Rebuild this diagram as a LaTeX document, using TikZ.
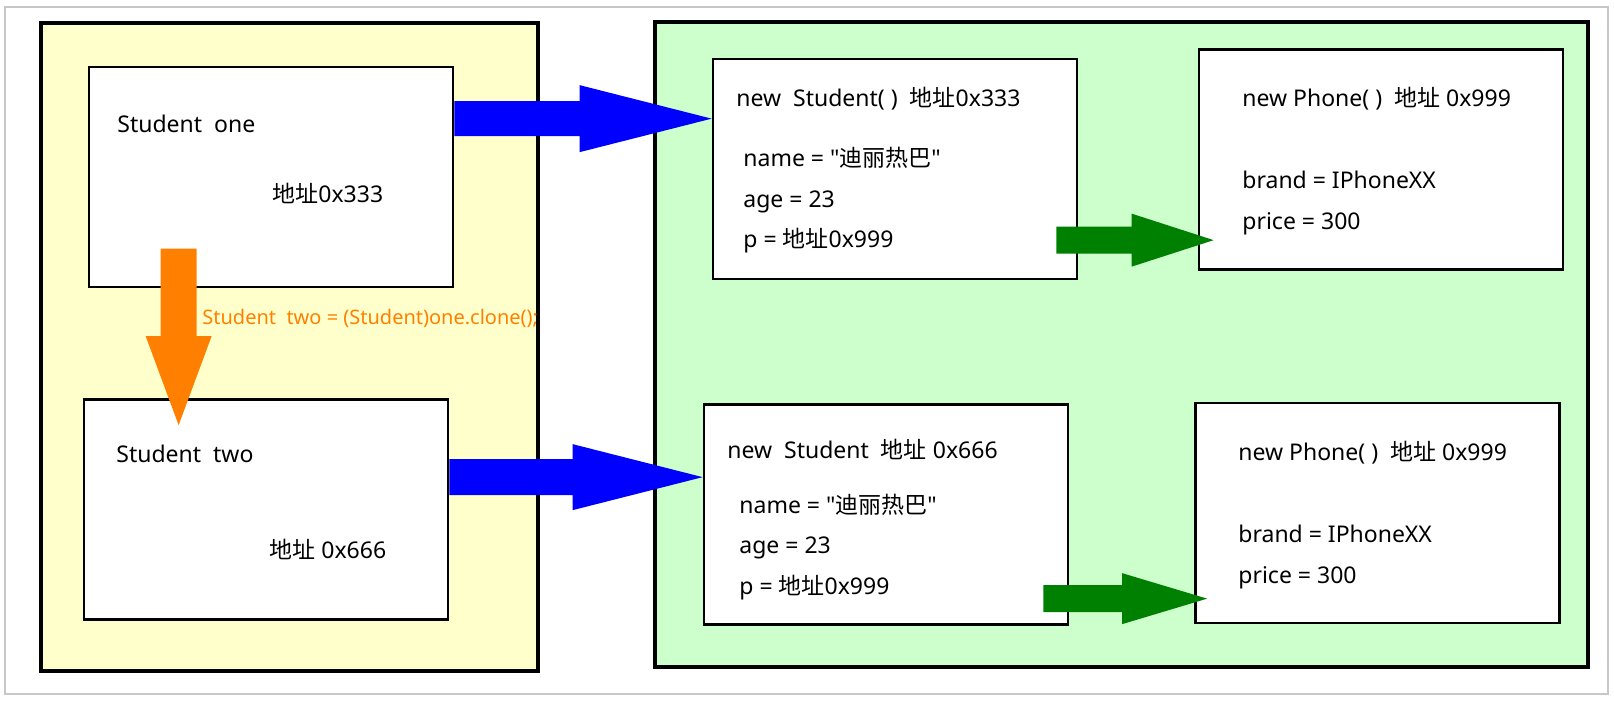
\documentclass[tikz,border=0pt]{standalone}
\usepackage{fontspec}
\setmainfont{Noto Sans}[Ligatures=TeXOff]
\newfontfamily\cjk{Noto Sans CJK SC}[Ligatures=TeXOff]
\usepackage{xcolor}
\usepackage{tikz}
\usetikzlibrary{calc}
\definecolor{stackbg}{HTML}{FFFFCC}
\definecolor{heapbg}{HTML}{CCFFCC}
\definecolor{refblue}{HTML}{0000FF}
\definecolor{refgreen}{HTML}{008000}
\definecolor{cloneorange}{HTML}{FF8000}
\newcommand\addr{{\cjk 地址}}
\tikzset{area/.style={rectangle,draw,line width=2.4pt,inner sep=0pt},
  obj/.style={rectangle,draw,fill=white,line width=1.35pt,minimum width=182pt,minimum height=110pt,inner sep=0pt},
  txt/.style={anchor=base west,inner sep=0pt,font=\fontsize{11.5}{13}\selectfont}}
% fat arrows: colour, start, tip, half shaft, half head, head length
\newcommand\fatright[6]{\fill[#1] ($(#2)+(0,-#4)$) -- ($(#3)+(-#6,-#4)$) -- ($(#3)+(-#6,-#5)$) -- (#3) -- ($(#3)+(-#6,#5)$) -- ($(#3)+(-#6,#4)$) -- ($(#2)+(0,#4)$) -- cycle;}
\newcommand\fatdown[6]{\fill[#1] ($(#2)+(-#4,0)$) -- ($(#3)+(-#4,-#6)$) -- ($(#3)+(-#5,-#6)$) -- (#3) -- ($(#3)+(#5,-#6)$) -- ($(#3)+(#4,-#6)$) -- ($(#2)+(#4,0)$) -- cycle;}
\begin{document}
\begin{tikzpicture}[x=0.5pt,y=-0.5pt]
    \useasboundingbox (0,0) rectangle (1614,701);
    \draw[black!22,line width=0.6pt] (5,7) rectangle (1608,694);

    \node[area,fill=stackbg,minimum width=248.5pt,minimum height=324pt] (stack) at (289.5,347) {};
    \node[area,fill=heapbg,minimum width=466.5pt,minimum height=322.5pt] (heap) at (1121.5,344.5) {};

    \node[obj] (one) at (271,177) {};
    \node[obj] (two) at (266,509.5) {};
    \node[obj] (s1) at (895,169) {};
    \node[obj] (s2) at (886,514.5) {};
    \node[obj] (p1) at (1381,159.5) {};
    \node[obj] (p2) at (1377.5,513) {};

    \node[txt] (onet) at (117,133) {Student\ \ one};
    \node[txt] (onea) at (272,203) {\addr0x333};
    \node[txt] (twot) at (116,462) {Student\ \ two};
    \node[txt] (twoa) at (269,558) {\addr\ 0x666};

    \node[txt] (s1t) at (736,107) {new\ \ Student( )\ \ \addr0x333};
    \node[txt] (s1n) at (743,167) {name = "{\cjk 迪丽热巴}"};
    \node[txt] (s1a) at (743,207) {age = 23};
    \node[txt] (s1p) at (743,248) {p = \addr0x999};

    \node[txt] (s2t) at (727,458) {new\ \ Student\ \ \addr\ 0x666};
    \node[txt] (s2n) at (739,513) {name = "{\cjk 迪丽热巴}"};
    \node[txt] (s2a) at (739,553) {age = 23};
    \node[txt] (s2p) at (739,594) {p = \addr0x999};

    \node[txt] (p1t) at (1242,107) {new Phone( )\ \ \addr\ 0x999};
    \node[txt] (p1b) at (1242,189) {brand = IPhoneXX};
    \node[txt] (p1c) at (1242,230) {price = 300};

    \node[txt] (p2t) at (1238,460) {new Phone( )\ \ \addr\ 0x999};
    \node[txt] (p2b) at (1238,542) {brand = IPhoneXX};
    \node[txt] (p2c) at (1238,583) {price = 300};

    % arrow ends
    \coordinate (tip1) at ($(s1.north west)+(0,61)$);
    \coordinate (tip2) at ($(s2.north west)+(0,74)$);
    \coordinate (tip3) at ($(p1.north west)+(16,192)$);
    \coordinate (tail3) at ($(s1.east |- tip3)+(-22,0)$);
    \coordinate (tip4) at ($(p2.north west)+(13,197)$);
    \coordinate (tail4) at ($(s2.east |- tip4)+(-26,0)$);
    \coordinate (tail5) at ($(one.north west)+(91,183)$);
    \coordinate (tip5) at ($(two.north west)+(96,27)$);

    \fatright{refblue}{one.east |- tip1}{tip1}{17.5}{33.5}{132}
    \fatright{refblue}{two.east |- tip2}{tip2}{18}{33}{130}
    \fatright{refgreen}{tail3}{tip3}{13.5}{26.5}{82}
    \fatright{refgreen}{tail4}{tip4}{13.5}{25.5}{85}
    \fatdown{cloneorange}{tail5}{tip5}{18}{33}{89}

    \node[txt,font=\fontsize{10}{12}\selectfont,text=cloneorange] (clone) at (202,324) {Student\ \ two = (Student)one.clone();};
\end{tikzpicture}
\end{document}
